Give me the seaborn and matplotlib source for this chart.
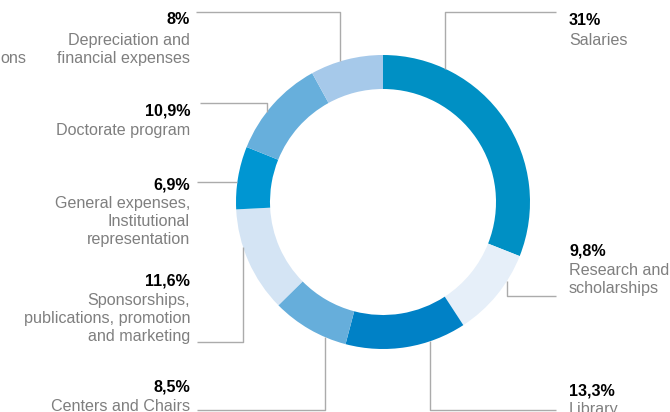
import numpy as np
import matplotlib.pyplot as plt
import seaborn as sns

# datos del gráfico (sentido horario desde arriba)
categories = ["Salaries", "Research and\nscholarships", "Library", "Centers and Chairs",
              "Sponsorships,\npublications, promotion\nand marketing",
              "General expenses,\nInstitutional\nrepresentation",
              "Doctorate program", "Depreciation and\nfinancial expenses"]
shares = [31, 9.8, 13.3, 8.5, 11.6, 6.9, 10.9, 8]
share_labels = ["31%", "9,8%", "13,3%", "8,5%", "11,6%", "6,9%", "10,9%", "8%"]
colors = ["#0090c4", "#e6eff9", "#0081c6", "#66aedb",
          "#d4e4f4", "#0096d2", "#67afdc", "#a6c9ea"]

sns.set_theme(style="white")
plt.rcParams['font.family'] = ['Liberation Sans', 'DejaVu Sans']

W, H = 670, 412
fig = plt.figure(figsize=(6.7, 4.12), dpi=100)
ax = fig.add_axes([0, 0, 1, 1])

cx, cy, R, ring = 383, 202, 147, 34

def Y(py):
    return H - py

ax.pie(shares, colors=colors, startangle=90, counterclock=False,
       radius=R, center=(cx, Y(cy)),
       wedgeprops=dict(width=ring, linewidth=0))

# disposición: (lado, x línea vertical o None, y línea horizontal, extremo, y porcentaje, y categoría)
layout = [
    ("right", 445, 12, 556, 13, 33),
    ("right", 507, 296, 556, 243, 263),
    ("right", 430, 410, 556, 383, 402),
    ("left", 325, 410, 197, 380, 399),
    ("left", 243, 342, 197, 273, 293),
    ("left", None, 182, 197, 177, 196),
    ("left", 267, 103, 200, 103, 123),
    ("left", 340, 12, 196, 12, 33),
]

line_kw = dict(color="#ababab", lw=1.0, solid_capstyle="butt")
gray = "#7f7f7f"
fs = 11.6

for cat, pct, (side, xv, yh, xend, yp, yc) in zip(categories, share_labels, layout):
    if xv is None:
        # línea horizontal directa hasta el anillo
        xr = cx - np.sqrt(R**2 - (yh - cy)**2)
        ax.plot([xend, xr], [Y(yh), Y(yh)], **line_kw)
    else:
        dy = np.sqrt(R**2 - (xv - cx)**2)
        yr = cy - dy if yh < cy else cy + dy
        ax.plot([xv, xv, xend], [Y(yr), Y(yh), Y(yh)], **line_kw)

    if side == "right":
        xt, ha = 569, "left"
    else:
        xt, ha = 190, "right"
    ax.text(xt, Y(yp), pct, ha=ha, va="top", fontsize=fs,
            fontweight="bold", color="black")
    ax.text(xt, Y(yc), cat, ha=ha, va="top", fontsize=fs,
            color=gray, linespacing=1.27, multialignment=ha)

# resto de una etiqueta cortada en el borde
ax.text(0, Y(51), "ons", ha="left", va="top", fontsize=fs, color=gray)

ax.set_xlim(0, W)
ax.set_ylim(0, H)
ax.axis("off")

fig.savefig("out.png", dpi=100)
